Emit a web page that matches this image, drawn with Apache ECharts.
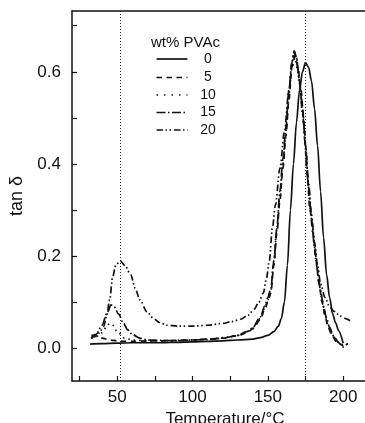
<!DOCTYPE html>
<html><head><meta charset="utf-8">
<script src="https://cdn.jsdelivr.net/npm/echarts@6/dist/echarts.min.js"></script>
<style>html,body{margin:0;padding:0;background:#fff}#c{width:365px;height:423px}</style>
</head><body><div id="c"></div>
<script>
// Data
const seriesNames = ['0', '5', '10', '15', '20'];
const legendTitle = 'wt% PVAc';
const xTickValues = [25, 50, 75, 100, 125, 150, 175, 200];
const xLabelValues = [50, 100, 150, 200];
const yTickValues = [0, 0.1, 0.2, 0.3, 0.4, 0.5, 0.6, 0.7];
const yLabelValues = [0, 0.2, 0.4, 0.6];
const refLines = [52, 175];

const t0 = [32, 40, 50, 60, 70, 80, 90, 100, 110, 120, 130, 140, 145, 150, 154, 157, 159, 161, 163, 165, 167, 169, 171, 173, 175, 177, 179, 181, 183, 185, 187, 189, 191, 193, 195, 197, 200];
const v0 = [0.009, 0.010, 0.011, 0.012, 0.012, 0.012, 0.013, 0.014, 0.015, 0.016, 0.018, 0.020, 0.023, 0.028, 0.036, 0.048, 0.065, 0.10, 0.18, 0.30, 0.40, 0.49, 0.56, 0.60, 0.62, 0.61, 0.58, 0.52, 0.44, 0.34, 0.24, 0.16, 0.11, 0.075, 0.055, 0.038, 0.011];

const t5 = [33, 36, 40, 45, 50, 55, 60, 70, 80, 90, 100, 110, 120, 130, 136, 140, 145, 148, 150, 152, 154, 156, 158, 160, 162, 164, 166, 168, 170, 172, 174, 176, 178, 180, 182, 184, 186, 188, 190, 193, 196, 200];
const v5 = [0.029, 0.026, 0.022, 0.018, 0.016, 0.015, 0.015, 0.016, 0.016, 0.017, 0.018, 0.020, 0.022, 0.027, 0.034, 0.042, 0.062, 0.085, 0.10, 0.12, 0.18, 0.25, 0.32, 0.39, 0.46, 0.54, 0.61, 0.635, 0.61, 0.56, 0.49, 0.38, 0.30, 0.25, 0.19, 0.14, 0.10, 0.07, 0.045, 0.025, 0.012, 0.005];

const t10 = [33, 36, 40, 43, 45, 47, 50, 55, 60, 70, 80, 90, 100, 110, 120, 130, 136, 140, 145, 148, 150, 152, 154, 156, 158, 160, 162, 164, 166, 168, 170, 172, 174, 176, 178, 180, 182, 184, 186, 188, 190, 193, 196, 200, 203];
const v10 = [0.022, 0.025, 0.034, 0.047, 0.054, 0.05, 0.036, 0.022, 0.018, 0.016, 0.016, 0.017, 0.018, 0.020, 0.023, 0.028, 0.035, 0.044, 0.065, 0.088, 0.105, 0.125, 0.19, 0.26, 0.33, 0.40, 0.47, 0.55, 0.61, 0.63, 0.60, 0.55, 0.48, 0.39, 0.31, 0.25, 0.19, 0.14, 0.105, 0.075, 0.05, 0.028, 0.015, 0.007, 0.01];

const t15 = [33, 36, 40, 43, 46, 48, 51, 54, 57, 60, 65, 70, 80, 90, 100, 110, 120, 130, 136, 140, 145, 148, 150, 152, 154, 156, 158, 160, 162, 164, 166, 167.5, 169, 171, 173, 175, 177, 179, 181, 183, 185, 187, 189, 191, 194, 197, 200, 203];
const v15 = [0.025, 0.03, 0.05, 0.075, 0.094, 0.09, 0.074, 0.055, 0.04, 0.03, 0.022, 0.018, 0.017, 0.016, 0.018, 0.019, 0.022, 0.028, 0.036, 0.045, 0.068, 0.092, 0.11, 0.13, 0.19, 0.26, 0.34, 0.41, 0.48, 0.56, 0.62, 0.645, 0.63, 0.58, 0.52, 0.44, 0.35, 0.28, 0.22, 0.17, 0.125, 0.09, 0.065, 0.045, 0.025, 0.012, 0.003, 0.011];

const t20 = [32.5, 35, 38, 41, 43, 45, 47, 49, 52, 55, 59, 62, 65, 70, 74, 78, 83, 90, 100, 110, 120, 126, 132, 137, 141, 144, 147, 149, 151, 153, 155, 158, 161, 164, 166, 167.5, 169, 171, 173, 175, 177, 179, 181, 183, 185, 188, 191, 194, 198, 202, 205];
const v20 = [0.022, 0.025, 0.033, 0.047, 0.07, 0.105, 0.155, 0.18, 0.19, 0.18, 0.16, 0.13, 0.105, 0.078, 0.065, 0.056, 0.05, 0.048, 0.048, 0.05, 0.054, 0.058, 0.063, 0.072, 0.085, 0.10, 0.12, 0.15, 0.19, 0.26, 0.31, 0.39, 0.47, 0.56, 0.62, 0.645, 0.63, 0.58, 0.51, 0.44, 0.36, 0.29, 0.23, 0.18, 0.14, 0.11, 0.09, 0.08, 0.07, 0.064, 0.059];

const temps = [t0, t5, t10, t15, t20];
const vals = [v0, v5, v10, v15, v20];
const dashes = ['solid', [5.5, 4.5], [1.5, 4], [9, 2.5, 1.5, 2.5], [6.5, 2.5, 1.5, 2.5, 1.5, 3]];
const legendDashes = [null, [5.5, 4.5], [1.5, 6], [9, 2.5, 1.5, 2.5], [6.5, 2.5, 1.5, 2.5, 1.5, 3]];

const FONT = '"Liberation Sans", Arial, sans-serif';
const chart = echarts.init(document.getElementById('c'));

const series = seriesNames.map((n, k) => ({
  name: n, type: 'line', symbol: 'none', smooth: 0.3, smoothMonotone: 'x',
  data: temps[k].map((x, i) => [x, vals[k][i]]),
  lineStyle: { color: '#111', width: 1.7, type: dashes[k] },
  z: 3,
  markLine: k === 0 ? {
    silent: true, symbol: 'none', label: { show: false },
    lineStyle: { color: '#222', width: 1, type: [1, 2] },
    data: refLines.map(v => ({ xAxis: v }))
  } : undefined
}));

// legend drawn as graphic
const gfx = [{ type: 'text', left: 151, top: 35, style: { text: legendTitle, font: '15px ' + FONT, fill: '#111' } }];
const rowY = [59, 77.5, 95, 112.5, 130];
seriesNames.forEach((n, k) => {
  gfx.push({ type: 'line', shape: { x1: 156.5, y1: rowY[k], x2: 187.5, y2: rowY[k] },
    style: { stroke: '#111', lineWidth: 1.7, lineDash: legendDashes[k] } });
  gfx.push({ type: 'text', x: 208, y: rowY[k], style: { text: n, font: '14px ' + FONT, fill: '#111', align: 'center', verticalAlign: 'middle' } });
});

chart.setOption({
  animation: false,
  backgroundColor: '#fff',
  grid: { left: 72, top: 11, right: 0, bottom: 42, outerBoundsMode: 'none', containLabel: false },
  xAxis: [{
    type: 'value', min: 20, max: 214.5,
    name: 'Temperature/°C', nameLocation: 'middle', nameGap: 27,
    nameTextStyle: { fontFamily: FONT, fontSize: 17, color: '#111', padding: [0, 0, 0, 13] },
    axisLine: { show: true, onZero: false, lineStyle: { color: '#111', width: 1.5 } },
    axisTick: { show: true, inside: true, length: 5, customValues: xTickValues, lineStyle: { color: '#111', width: 1.2 } },
    axisLabel: { customValues: xLabelValues, fontFamily: FONT, fontSize: 17, color: '#111', margin: 8 },
    splitLine: { show: false }
  }, {
    type: 'value', min: 20, max: 214.5, position: 'top',
    axisLine: { show: true, onZero: false, lineStyle: { color: '#111', width: 1.5 } },
    axisTick: { show: false }, axisLabel: { show: false }, splitLine: { show: false }
  }],
  yAxis: {
    type: 'value', min: -0.071, max: 0.732,
    name: 'tan δ', nameLocation: 'middle', nameGap: 44, nameRotate: 90,
    nameTextStyle: { fontFamily: FONT, fontSize: 18, color: '#111' },
    axisLine: { show: true, onZero: false, lineStyle: { color: '#111', width: 1.5 } },
    axisTick: { show: true, inside: true, length: 5, customValues: yTickValues, lineStyle: { color: '#111', width: 1.2 } },
    axisLabel: { customValues: yLabelValues, formatter: v => v.toFixed(1), fontFamily: FONT, fontSize: 17, color: '#111', margin: 11 },
    splitLine: { show: false }
  },
  graphic: gfx,
  series: series
});
</script></body></html>
